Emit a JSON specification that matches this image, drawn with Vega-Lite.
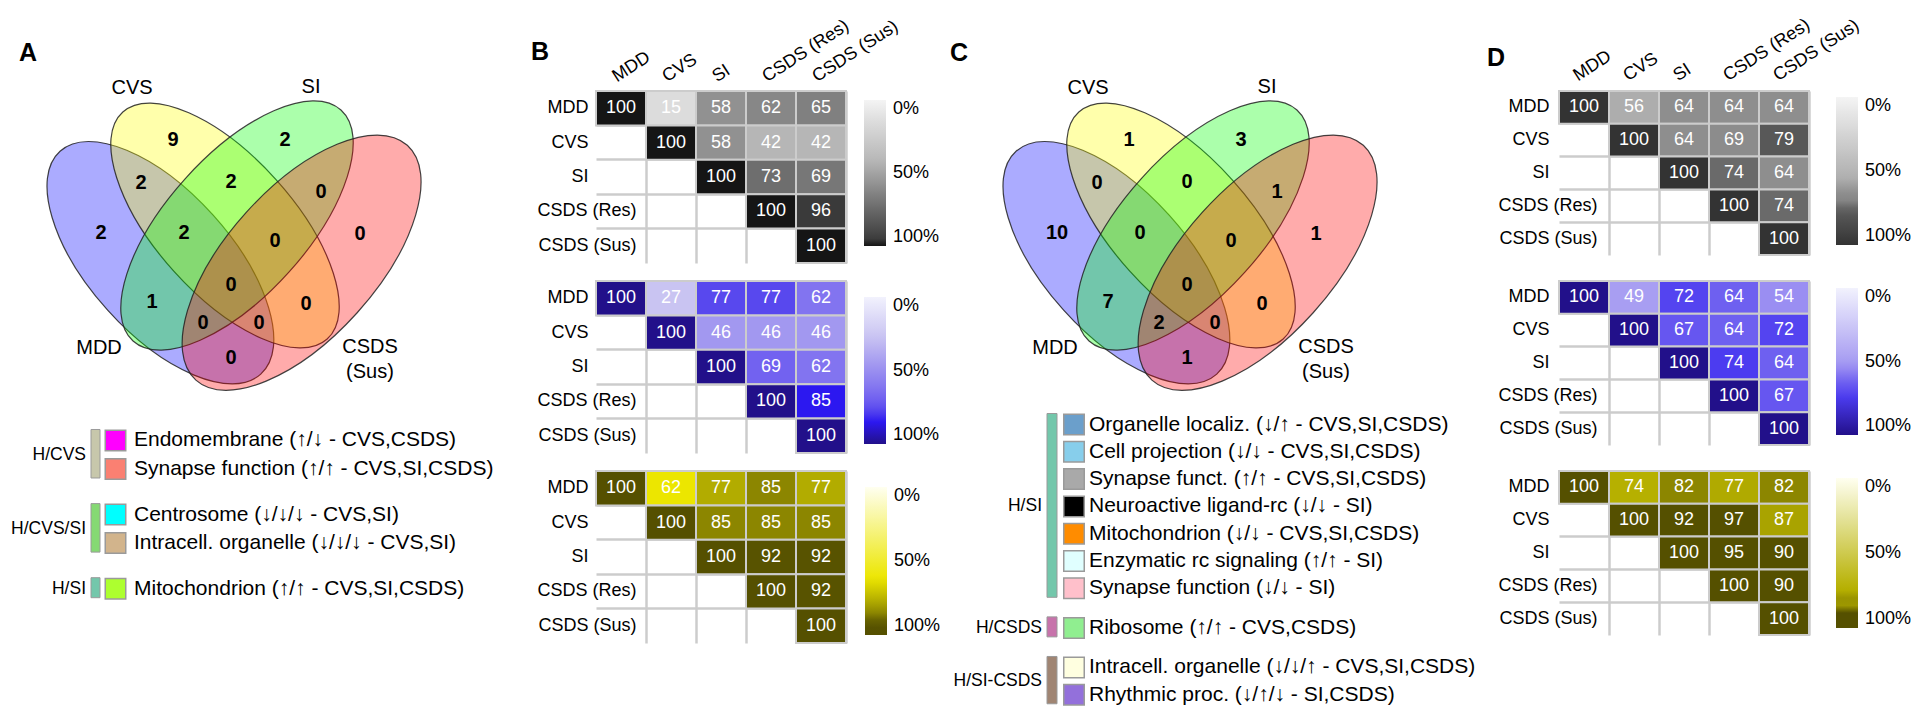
{
  "$schema": "https://vega.github.io/schema/vega-lite/v6.json",
  "padding": {"top": 15, "left": 0, "right": 0, "bottom": 0},
  "background": "white",
  "config": {
    "view": {"stroke": null},
    "font": "Liberation Sans",
    "axis": {"labelFont": "Liberation Sans", "labelColor": "#000000"},
    "legend": {"labelFont": "Liberation Sans", "labelColor": "#000000"},
    "text": {"font": "Liberation Sans"}
  },
  "datasets": {
    "vennSets": [
      {"set": "MDD", "u": -0.706, "v": -0.322, "label": "MDD", "lu": -1.32, "lv": -1.17},
      {"set": "CVS", "u": -0.06, "v": 0.05, "label": "CVS", "lu": -0.99, "lv": 1.43},
      {"set": "SI", "u": 0.06, "v": 0.05, "label": "SI", "lu": 0.8, "lv": 1.44},
      {"set": "CSDS (Sus)", "u": 0.706, "v": -0.322, "label": "CSDS\n(Sus)", "lu": 1.39, "lv": -1.16}
    ],
    "regions": [
      {"region": "MDD", "u": -1.3, "v": -0.02, "A": 2, "C": 10},
      {"region": "CVS", "u": -0.58, "v": 0.91, "A": 9, "C": 1},
      {"region": "SI", "u": 0.54, "v": 0.91, "A": 2, "C": 3},
      {"region": "CSDS", "u": 1.29, "v": -0.03, "A": 0, "C": 1},
      {"region": "MDD&CVS", "u": -0.9, "v": 0.48, "A": 2, "C": 0},
      {"region": "CVS&SI", "u": 0, "v": 0.49, "A": 2, "C": 0},
      {"region": "SI&CSDS", "u": 0.9, "v": 0.39, "A": 0, "C": 1},
      {"region": "MDD&CVS&SI", "u": -0.47, "v": -0.02, "A": 2, "C": 0},
      {"region": "CVS&SI&CSDS", "u": 0.44, "v": -0.1, "A": 0, "C": 0},
      {"region": "all", "u": 0, "v": -0.54, "A": 0, "C": 0},
      {"region": "MDD&SI", "u": -0.79, "v": -0.71, "A": 1, "C": 7},
      {"region": "CVS&CSDS", "u": 0.75, "v": -0.73, "A": 0, "C": 0},
      {"region": "MDD&SI&CSDS", "u": -0.28, "v": -0.92, "A": 0, "C": 2},
      {"region": "MDD&CVS&CSDS", "u": 0.28, "v": -0.92, "A": 0, "C": 0},
      {"region": "MDD&CSDS", "u": 0, "v": -1.27, "A": 0, "C": 1}
    ],
    "lettersA": [{"p": "A", "u": -2.03, "v": 1.78}, {"p": "B", "u": 3.09, "v": 1.79}],
    "lettersC": [{"p": "C", "u": -2.28, "v": 1.78}, {"p": "D", "u": 3.09, "v": 1.73}],
    "legendA": [
      {"group": "H/CVS", "item": "Endomembrane (↑/↓ - CVS,CSDS)", "line": 1},
      {"group": "H/CVS", "item": "Synapse function (↑/↑ - CVS,SI,CSDS)", "line": 2},
      {"group": "H/CVS/SI", "item": "Centrosome (↓/↓/↓ - CVS,SI)", "line": 3.6},
      {"group": "H/CVS/SI", "item": "Intracell. organelle (↓/↓/↓ - CVS,SI)", "line": 4.6},
      {"group": "H/SI", "item": "Mitochondrion (↑/↑ - CVS,SI,CSDS)", "line": 6.2}
    ],
    "legendC": [
      {"group": "H/SI", "item": "Organelle localiz. (↓/↑ - CVS,SI,CSDS)", "line": 1},
      {"group": "H/SI", "item": "Cell projection (↓/↓ - CVS,SI,CSDS)", "line": 2},
      {"group": "H/SI", "item": "Synapse funct. (↑/↑ - CVS,SI,CSDS)", "line": 3},
      {"group": "H/SI", "item": "Neuroactive ligand-rc (↓/↓ - SI)", "line": 4},
      {"group": "H/SI", "item": "Mitochondrion (↓/↓ - CVS,SI,CSDS)", "line": 5},
      {"group": "H/SI", "item": "Enzymatic rc signaling (↑/↑ - SI)", "line": 6},
      {"group": "H/SI", "item": "Synapse function (↓/↓ - SI)", "line": 7},
      {"group": "H/CSDS", "item": "Ribosome (↑/↑ - CVS,CSDS)", "line": 8.45},
      {"group": "H/SI-CSDS", "item": "Intracell. organelle (↓/↓/↑ - CVS,SI,CSDS)", "line": 9.9},
      {"group": "H/SI-CSDS", "item": "Rhythmic proc. (↓/↑/↓ - SI,CSDS)", "line": 10.9}
    ],
    "B": [
      {"m": "gray", "row": "MDD", "col": "MDD", "value": 100},
      {"m": "gray", "row": "MDD", "col": "CVS", "value": 15},
      {"m": "gray", "row": "MDD", "col": "SI", "value": 58},
      {"m": "gray", "row": "MDD", "col": "CSDS (Res)", "value": 62},
      {"m": "gray", "row": "MDD", "col": "CSDS (Sus)", "value": 65},
      {"m": "gray", "row": "CVS", "col": "CVS", "value": 100},
      {"m": "gray", "row": "CVS", "col": "SI", "value": 58},
      {"m": "gray", "row": "CVS", "col": "CSDS (Res)", "value": 42},
      {"m": "gray", "row": "CVS", "col": "CSDS (Sus)", "value": 42},
      {"m": "gray", "row": "SI", "col": "SI", "value": 100},
      {"m": "gray", "row": "SI", "col": "CSDS (Res)", "value": 73},
      {"m": "gray", "row": "SI", "col": "CSDS (Sus)", "value": 69},
      {"m": "gray", "row": "CSDS (Res)", "col": "CSDS (Res)", "value": 100},
      {"m": "gray", "row": "CSDS (Res)", "col": "CSDS (Sus)", "value": 96},
      {"m": "gray", "row": "CSDS (Sus)", "col": "CSDS (Sus)", "value": 100},
      {"m": "blue", "row": "MDD", "col": "MDD", "value": 100},
      {"m": "blue", "row": "MDD", "col": "CVS", "value": 27},
      {"m": "blue", "row": "MDD", "col": "SI", "value": 77},
      {"m": "blue", "row": "MDD", "col": "CSDS (Res)", "value": 77},
      {"m": "blue", "row": "MDD", "col": "CSDS (Sus)", "value": 62},
      {"m": "blue", "row": "CVS", "col": "CVS", "value": 100},
      {"m": "blue", "row": "CVS", "col": "SI", "value": 46},
      {"m": "blue", "row": "CVS", "col": "CSDS (Res)", "value": 46},
      {"m": "blue", "row": "CVS", "col": "CSDS (Sus)", "value": 46},
      {"m": "blue", "row": "SI", "col": "SI", "value": 100},
      {"m": "blue", "row": "SI", "col": "CSDS (Res)", "value": 69},
      {"m": "blue", "row": "SI", "col": "CSDS (Sus)", "value": 62},
      {"m": "blue", "row": "CSDS (Res)", "col": "CSDS (Res)", "value": 100},
      {"m": "blue", "row": "CSDS (Res)", "col": "CSDS (Sus)", "value": 85},
      {"m": "blue", "row": "CSDS (Sus)", "col": "CSDS (Sus)", "value": 100},
      {"m": "yellow", "row": "MDD", "col": "MDD", "value": 100},
      {"m": "yellow", "row": "MDD", "col": "CVS", "value": 62},
      {"m": "yellow", "row": "MDD", "col": "SI", "value": 77},
      {"m": "yellow", "row": "MDD", "col": "CSDS (Res)", "value": 85},
      {"m": "yellow", "row": "MDD", "col": "CSDS (Sus)", "value": 77},
      {"m": "yellow", "row": "CVS", "col": "CVS", "value": 100},
      {"m": "yellow", "row": "CVS", "col": "SI", "value": 85},
      {"m": "yellow", "row": "CVS", "col": "CSDS (Res)", "value": 85},
      {"m": "yellow", "row": "CVS", "col": "CSDS (Sus)", "value": 85},
      {"m": "yellow", "row": "SI", "col": "SI", "value": 100},
      {"m": "yellow", "row": "SI", "col": "CSDS (Res)", "value": 92},
      {"m": "yellow", "row": "SI", "col": "CSDS (Sus)", "value": 92},
      {"m": "yellow", "row": "CSDS (Res)", "col": "CSDS (Res)", "value": 100},
      {"m": "yellow", "row": "CSDS (Res)", "col": "CSDS (Sus)", "value": 92},
      {"m": "yellow", "row": "CSDS (Sus)", "col": "CSDS (Sus)", "value": 100}
    ],
    "D": [
      {"m": "gray", "row": "MDD", "col": "MDD", "value": 100},
      {"m": "gray", "row": "MDD", "col": "CVS", "value": 56},
      {"m": "gray", "row": "MDD", "col": "SI", "value": 64},
      {"m": "gray", "row": "MDD", "col": "CSDS (Res)", "value": 64},
      {"m": "gray", "row": "MDD", "col": "CSDS (Sus)", "value": 64},
      {"m": "gray", "row": "CVS", "col": "CVS", "value": 100},
      {"m": "gray", "row": "CVS", "col": "SI", "value": 64},
      {"m": "gray", "row": "CVS", "col": "CSDS (Res)", "value": 69},
      {"m": "gray", "row": "CVS", "col": "CSDS (Sus)", "value": 79},
      {"m": "gray", "row": "SI", "col": "SI", "value": 100},
      {"m": "gray", "row": "SI", "col": "CSDS (Res)", "value": 74},
      {"m": "gray", "row": "SI", "col": "CSDS (Sus)", "value": 64},
      {"m": "gray", "row": "CSDS (Res)", "col": "CSDS (Res)", "value": 100},
      {"m": "gray", "row": "CSDS (Res)", "col": "CSDS (Sus)", "value": 74},
      {"m": "gray", "row": "CSDS (Sus)", "col": "CSDS (Sus)", "value": 100},
      {"m": "blue", "row": "MDD", "col": "MDD", "value": 100},
      {"m": "blue", "row": "MDD", "col": "CVS", "value": 49},
      {"m": "blue", "row": "MDD", "col": "SI", "value": 72},
      {"m": "blue", "row": "MDD", "col": "CSDS (Res)", "value": 64},
      {"m": "blue", "row": "MDD", "col": "CSDS (Sus)", "value": 54},
      {"m": "blue", "row": "CVS", "col": "CVS", "value": 100},
      {"m": "blue", "row": "CVS", "col": "SI", "value": 67},
      {"m": "blue", "row": "CVS", "col": "CSDS (Res)", "value": 64},
      {"m": "blue", "row": "CVS", "col": "CSDS (Sus)", "value": 72},
      {"m": "blue", "row": "SI", "col": "SI", "value": 100},
      {"m": "blue", "row": "SI", "col": "CSDS (Res)", "value": 74},
      {"m": "blue", "row": "SI", "col": "CSDS (Sus)", "value": 64},
      {"m": "blue", "row": "CSDS (Res)", "col": "CSDS (Res)", "value": 100},
      {"m": "blue", "row": "CSDS (Res)", "col": "CSDS (Sus)", "value": 67},
      {"m": "blue", "row": "CSDS (Sus)", "col": "CSDS (Sus)", "value": 100},
      {"m": "yellow", "row": "MDD", "col": "MDD", "value": 100},
      {"m": "yellow", "row": "MDD", "col": "CVS", "value": 74},
      {"m": "yellow", "row": "MDD", "col": "SI", "value": 82},
      {"m": "yellow", "row": "MDD", "col": "CSDS (Res)", "value": 77},
      {"m": "yellow", "row": "MDD", "col": "CSDS (Sus)", "value": 82},
      {"m": "yellow", "row": "CVS", "col": "CVS", "value": 100},
      {"m": "yellow", "row": "CVS", "col": "SI", "value": 92},
      {"m": "yellow", "row": "CVS", "col": "CSDS (Res)", "value": 97},
      {"m": "yellow", "row": "CVS", "col": "CSDS (Sus)", "value": 87},
      {"m": "yellow", "row": "SI", "col": "SI", "value": 100},
      {"m": "yellow", "row": "SI", "col": "CSDS (Res)", "value": 95},
      {"m": "yellow", "row": "SI", "col": "CSDS (Sus)", "value": 90},
      {"m": "yellow", "row": "CSDS (Res)", "col": "CSDS (Res)", "value": 100},
      {"m": "yellow", "row": "CSDS (Res)", "col": "CSDS (Sus)", "value": 90},
      {"m": "yellow", "row": "CSDS (Sus)", "col": "CSDS (Sus)", "value": 100}
    ]
  },
  "hconcat": [
    {
      "width": 557,
      "height": 618,
      "layer": [
        {
          "layer": [
            {
              "data": {"name": "vennSets"},
              "mark": {"type": "point", "filled": true, "fillOpacity": 0.33, "opacity": 1, "stroke": "#222222", "strokeWidth": 1.2, "strokeOpacity": 0.85},
              "encoding": {
                "x": {"field": "u", "type": "quantitative", "scale": {"domain": [-2.31, 3.26], "nice": false, "zero": false}, "axis": null},
                "y": {"field": "v", "type": "quantitative", "scale": {"domain": [-4.785, 1.395], "nice": false, "zero": false}, "axis": null},
                "fill": {"field": "set", "type": "nominal", "scale": {"domain": ["MDD", "CVS", "SI", "CSDS (Sus)"], "range": ["#0000ff", "#ffff00", "#00ff00", "#ff0000"]}, "legend": null},
                "shape": {"field": "set", "type": "nominal", "scale": {"domain": ["MDD", "CVS", "SI", "CSDS (Sus)"], "range": [
                  "M0.6691,0.7431C0.4749,0.9181,0.0178,0.7271,-0.3517,0.3167C-0.7213,-0.0937,-0.8634,-0.5682,-0.6691,-0.7431C-0.4749,-0.9181,-0.0178,-0.7271,0.3517,-0.3167C0.7213,0.0937,0.8634,0.5682,0.6691,0.7431Z",
                  "M0.6691,0.7431C0.4847,0.9092,0.0356,0.7111,-0.334,0.3007C-0.7035,-0.1097,-0.8536,-0.5771,-0.6691,-0.7431C-0.4847,-0.9092,-0.0356,-0.7111,0.334,-0.3007C0.7035,0.1097,0.8536,0.5771,0.6691,0.7431Z",
                  "M-0.6691,0.7431C-0.4847,0.9092,-0.0356,0.7111,0.334,0.3007C0.7035,-0.1097,0.8536,-0.5771,0.6691,-0.7431C0.4847,-0.9092,0.0356,-0.7111,-0.334,-0.3007C-0.7035,0.1097,-0.8536,0.5771,-0.6691,0.7431Z",
                  "M-0.6691,0.7431C-0.4749,0.9181,-0.0178,0.7271,0.3517,0.3167C0.7213,-0.0937,0.8634,-0.5682,0.6691,-0.7431C0.4749,-0.9181,0.0178,-0.7271,-0.3517,-0.3167C-0.7213,0.0937,-0.8634,0.5682,-0.6691,0.7431Z"
                ]}, "legend": null},
                "size": {"field": "set", "type": "ordinal", "scale": {"domain": ["MDD", "CVS", "SI", "CSDS (Sus)"], "range": [90000, 99856, 99856, 90000]}, "legend": null}
              }
            },
            {
              "data": {"name": "regions"},
              "mark": {"type": "text", "fontSize": 20, "fontWeight": "bold", "color": "#000000"},
              "encoding": {
                "x": {"field": "u", "type": "quantitative"},
                "y": {"field": "v", "type": "quantitative"},
                "text": {"field": "A", "type": "quantitative"}
              }
            },
            {
              "data": {"name": "vennSets"},
              "mark": {"type": "text", "fontSize": 20, "lineBreak": "\n", "lineHeight": 25, "color": "#000000"},
              "encoding": {
                "x": {"field": "lu", "type": "quantitative"},
                "y": {"field": "lv", "type": "quantitative"},
                "text": {"field": "label", "type": "nominal"}
              }
            },
            {
              "data": {"name": "lettersA"},
              "mark": {"type": "text", "fontSize": 25, "fontWeight": "bold", "color": "#000000"},
              "encoding": {
                "x": {"field": "u", "type": "quantitative"},
                "y": {"field": "v", "type": "quantitative"},
                "text": {"field": "p", "type": "nominal"}
              }
            }
          ]
        },
        {
          "data": {"name": "legendA"},
          "layer": [
            {
              "mark": {"type": "rect", "yOffset": -11, "y2Offset": 9, "stroke": "#9a9a9a", "strokeWidth": 1},
              "encoding": {
                "y": {"aggregate": "min", "field": "line", "type": "quantitative", "scale": {"domain": [-11.263, 10.421], "reverse": true, "nice": false, "zero": false}, "axis": null},
                "y2": {"aggregate": "max", "field": "line"},
                "x": {"datum": -1.4, "type": "quantitative"},
                "x2": {"datum": -1.31},
                "fill": {"field": "group", "type": "nominal", "scale": {"domain": ["H/CVS", "H/CVS/SI", "H/SI"], "range": ["#c7c7ab", "#85d973", "#73c7ab"]}, "legend": null}
              }
            },
            {
              "mark": {"type": "text", "align": "right", "baseline": "middle", "fontSize": 17.5, "color": "#000000"},
              "encoding": {
                "y": {"aggregate": "mean", "field": "line", "type": "quantitative"},
                "x": {"datum": -1.45, "type": "quantitative"},
                "text": {"field": "group", "type": "nominal"}
              }
            },
            {
              "mark": {"type": "point", "shape": "square", "filled": true, "size": 420, "opacity": 1, "stroke": "#9a9a9a", "strokeWidth": 1.5},
              "encoding": {
                "y": {"field": "line", "type": "quantitative"},
                "x": {"datum": -1.155, "type": "quantitative"},
                "color": {"field": "item", "type": "nominal", "scale": {"domain": ["Endomembrane (↑/↓ - CVS,CSDS)", "Synapse function (↑/↑ - CVS,SI,CSDS)", "Centrosome (↓/↓/↓ - CVS,SI)", "Intracell. organelle (↓/↓/↓ - CVS,SI)", "Mitochondrion (↑/↑ - CVS,SI,CSDS)"], "range": ["#ff00ff", "#fa8072", "#00ffff", "#d2b48c", "#adff2f"]}, "legend": null}
              }
            },
            {
              "mark": {"type": "text", "align": "left", "baseline": "middle", "fontSize": 21, "color": "#000000"},
              "encoding": {
                "y": {"field": "line", "type": "quantitative"},
                "x": {"datum": -0.97, "type": "quantitative"},
                "text": {"field": "item", "type": "nominal"}
              }
            }
          ]
        }
      ],
      "resolve": {"scale": {"y": "independent", "fill": "independent"}}
    },
    {
      "data": {"name": "B"},
      "spacing": 16,
      "resolve": {"scale": {"fill": "independent", "x": "independent", "y": "independent"}},
      "vconcat": [
        {
          "width": 250, "height": 172,
          "transform": [{"filter": "datum.m === 'gray'"}],
          "layer": [
            {
              "mark": {"type": "rect", "stroke": "#cccccc", "strokeWidth": 2},
              "encoding": {
                "x": {"field": "col", "type": "nominal", "scale": {"domain": ["MDD", "CVS", "SI", "CSDS (Res)", "CSDS (Sus)"], "paddingInner": 0, "paddingOuter": 0},
                  "axis": {"orient": "top", "title": null, "labelAngle": -33, "labelAlign": "left", "labelBaseline": "alphabetic", "labelPadding": 9, "labelOffset": -4, "labelFontSize": 18, "ticks": false, "domain": false, "grid": false}},
                "y": {"field": "row", "type": "nominal", "scale": {"domain": ["MDD", "CVS", "SI", "CSDS (Res)", "CSDS (Sus)"], "paddingInner": 0, "paddingOuter": 0},
                  "axis": {"orient": "left", "title": null, "labelFontSize": 18, "labelPadding": {"condition": {"test": "length(datum.label) > 5", "value": -40}, "value": 8}, "ticks": false, "domain": false, "grid": false}},
                "fill": {"field": "value", "type": "quantitative",
                  "scale": {"domain": [100, 96, 73, 60, 42, 15, 0], "range": ["#151515", "#3a3a3a", "#6e6e6e", "#8c8c8c", "#b6b6b6", "#dcdcdc", "#f4f4f4"], "interpolate": "rgb"},
                  "legend": {"title": null, "orient": "none", "legendX": 268, "legendY": 9, "padding": 0, "direction": "vertical", "values": [0, 50, 100], "labelExpr": "datum.value + '%'", "labelFontSize": 18, "labelBaseline": "middle", "labelOffset": 7, "gradientThickness": 22, "gradientLength": 146, "gradientStrokeWidth": 0}}
              }
            },
            {
              "mark": {"type": "text", "color": "#ffffff", "fontSize": 18},
              "encoding": {
                "x": {"field": "col", "type": "nominal", "axis": {"orient": "bottom", "title": null, "labels": false, "ticks": false, "domain": false, "grid": true, "bandPosition": 1, "gridColor": "#cccccc", "gridWidth": 2.5}},
                "y": {"field": "row", "type": "nominal", "axis": {"orient": "right", "title": null, "labels": false, "ticks": false, "domain": false, "grid": true, "bandPosition": 0, "gridColor": "#cccccc", "gridWidth": 2.5}},
                "text": {"field": "value", "type": "quantitative"}
              }
            }
          ],
          "resolve": {"axis": {"x": "independent", "y": "independent"}}
        },
        {
          "width": 250, "height": 172,
          "transform": [{"filter": "datum.m === 'blue'"}],
          "layer": [
            {
              "mark": {"type": "rect", "stroke": "#cccccc", "strokeWidth": 2},
              "encoding": {
                "x": {"field": "col", "type": "nominal", "scale": {"domain": ["MDD", "CVS", "SI", "CSDS (Res)", "CSDS (Sus)"], "paddingInner": 0, "paddingOuter": 0}, "axis": null},
                "y": {"field": "row", "type": "nominal", "scale": {"domain": ["MDD", "CVS", "SI", "CSDS (Res)", "CSDS (Sus)"], "paddingInner": 0, "paddingOuter": 0},
                  "axis": {"orient": "left", "title": null, "labelFontSize": 18, "labelPadding": {"condition": {"test": "length(datum.label) > 5", "value": -40}, "value": 8}, "ticks": false, "domain": false, "grid": false}},
                "fill": {"field": "value", "type": "quantitative",
                  "scale": {"domain": [100, 85, 77, 69, 62, 46, 27, 0], "range": ["#22108a", "#2c18f0", "#5848ee", "#7262f0", "#8274f0", "#a298f0", "#c9c4f2", "#f2f2fd"], "interpolate": "rgb"},
                  "legend": {"title": null, "orient": "none", "legendX": 268, "legendY": 16, "padding": 0, "direction": "vertical", "values": [0, 50, 100], "labelExpr": "datum.value + '%'", "labelFontSize": 18, "labelBaseline": "middle", "labelOffset": 7, "gradientThickness": 22, "gradientLength": 147, "gradientStrokeWidth": 0}}
              }
            },
            {
              "mark": {"type": "text", "color": "#ffffff", "fontSize": 18},
              "encoding": {
                "x": {"field": "col", "type": "nominal", "axis": {"orient": "bottom", "title": null, "labels": false, "ticks": false, "domain": false, "grid": true, "bandPosition": 1, "gridColor": "#cccccc", "gridWidth": 2.5}},
                "y": {"field": "row", "type": "nominal", "axis": {"orient": "right", "title": null, "labels": false, "ticks": false, "domain": false, "grid": true, "bandPosition": 0, "gridColor": "#cccccc", "gridWidth": 2.5}},
                "text": {"field": "value", "type": "quantitative"}
              }
            }
          ],
          "resolve": {"axis": {"x": "independent", "y": "independent"}}
        },
        {
          "width": 250, "height": 172,
          "transform": [{"filter": "datum.m === 'yellow'"}],
          "layer": [
            {
              "mark": {"type": "rect", "stroke": "#cccccc", "strokeWidth": 2},
              "encoding": {
                "x": {"field": "col", "type": "nominal", "scale": {"domain": ["MDD", "CVS", "SI", "CSDS (Res)", "CSDS (Sus)"], "paddingInner": 0, "paddingOuter": 0}, "axis": null},
                "y": {"field": "row", "type": "nominal", "scale": {"domain": ["MDD", "CVS", "SI", "CSDS (Res)", "CSDS (Sus)"], "paddingInner": 0, "paddingOuter": 0},
                  "axis": {"orient": "left", "title": null, "labelFontSize": 18, "labelPadding": {"condition": {"test": "length(datum.label) > 5", "value": -40}, "value": 8}, "ticks": false, "domain": false, "grid": false}},
                "fill": {"field": "value", "type": "quantitative",
                  "scale": {"domain": [100, 92, 85, 77, 62, 0], "range": ["#555000", "#585300", "#8c8600", "#b2ac00", "#ece600", "#fffff0"], "interpolate": "rgb"},
                  "legend": {"title": null, "orient": "none", "legendX": 269, "legendY": 16, "padding": 0, "direction": "vertical", "values": [0, 50, 100], "labelExpr": "datum.value + '%'", "labelFontSize": 18, "labelBaseline": "middle", "labelOffset": 7, "gradientThickness": 22, "gradientLength": 148, "gradientStrokeWidth": 0}}
              }
            },
            {
              "mark": {"type": "text", "color": "#ffffff", "fontSize": 18},
              "encoding": {
                "x": {"field": "col", "type": "nominal", "axis": {"orient": "bottom", "title": null, "labels": false, "ticks": false, "domain": false, "grid": true, "bandPosition": 1, "gridColor": "#cccccc", "gridWidth": 2.5}},
                "y": {"field": "row", "type": "nominal", "axis": {"orient": "right", "title": null, "labels": false, "ticks": false, "domain": false, "grid": true, "bandPosition": 0, "gridColor": "#cccccc", "gridWidth": 2.5}},
                "text": {"field": "value", "type": "quantitative"}
              }
            }
          ],
          "resolve": {"axis": {"x": "independent", "y": "independent"}}
        }
      ]
    },
    {
      "width": 577,
      "height": 618,
      "layer": [
        {
          "layer": [
            {
              "data": {"name": "vennSets"},
              "mark": {"type": "point", "filled": true, "fillOpacity": 0.33, "opacity": 1, "stroke": "#222222", "strokeWidth": 1.2, "strokeOpacity": 0.85},
              "encoding": {
                "x": {"field": "u", "type": "quantitative", "scale": {"domain": [-2.46, 3.31], "nice": false, "zero": false}, "axis": null},
                "y": {"field": "v", "type": "quantitative", "scale": {"domain": [-4.785, 1.395], "nice": false, "zero": false}, "axis": null},
                "fill": {"field": "set", "type": "nominal", "scale": {"domain": ["MDD", "CVS", "SI", "CSDS (Sus)"], "range": ["#0000ff", "#ffff00", "#00ff00", "#ff0000"]}, "legend": null},
                "shape": {"field": "set", "type": "nominal", "scale": {"domain": ["MDD", "CVS", "SI", "CSDS (Sus)"], "range": [
                  "M0.6691,0.7431C0.4749,0.9181,0.0178,0.7271,-0.3517,0.3167C-0.7213,-0.0937,-0.8634,-0.5682,-0.6691,-0.7431C-0.4749,-0.9181,-0.0178,-0.7271,0.3517,-0.3167C0.7213,0.0937,0.8634,0.5682,0.6691,0.7431Z",
                  "M0.6691,0.7431C0.4847,0.9092,0.0356,0.7111,-0.334,0.3007C-0.7035,-0.1097,-0.8536,-0.5771,-0.6691,-0.7431C-0.4847,-0.9092,-0.0356,-0.7111,0.334,-0.3007C0.7035,0.1097,0.8536,0.5771,0.6691,0.7431Z",
                  "M-0.6691,0.7431C-0.4847,0.9092,-0.0356,0.7111,0.334,0.3007C0.7035,-0.1097,0.8536,-0.5771,0.6691,-0.7431C0.4847,-0.9092,0.0356,-0.7111,-0.334,-0.3007C-0.7035,0.1097,-0.8536,0.5771,-0.6691,0.7431Z",
                  "M-0.6691,0.7431C-0.4749,0.9181,-0.0178,0.7271,0.3517,0.3167C0.7213,-0.0937,0.8634,-0.5682,0.6691,-0.7431C0.4749,-0.9181,0.0178,-0.7271,-0.3517,-0.3167C-0.7213,0.0937,-0.8634,0.5682,-0.6691,0.7431Z"
                ]}, "legend": null},
                "size": {"field": "set", "type": "ordinal", "scale": {"domain": ["MDD", "CVS", "SI", "CSDS (Sus)"], "range": [90000, 99856, 99856, 90000]}, "legend": null}
              }
            },
            {
              "data": {"name": "regions"},
              "mark": {"type": "text", "fontSize": 20, "fontWeight": "bold", "color": "#000000"},
              "encoding": {
                "x": {"field": "u", "type": "quantitative"},
                "y": {"field": "v", "type": "quantitative"},
                "text": {"field": "C", "type": "quantitative"}
              }
            },
            {
              "data": {"name": "vennSets"},
              "mark": {"type": "text", "fontSize": 20, "lineBreak": "\n", "lineHeight": 25, "color": "#000000"},
              "encoding": {
                "x": {"field": "lu", "type": "quantitative"},
                "y": {"field": "lv", "type": "quantitative"},
                "text": {"field": "label", "type": "nominal"}
              }
            },
            {
              "data": {"name": "lettersC"},
              "mark": {"type": "text", "fontSize": 25, "fontWeight": "bold", "color": "#000000"},
              "encoding": {
                "x": {"field": "u", "type": "quantitative"},
                "y": {"field": "v", "type": "quantitative"},
                "text": {"field": "p", "type": "nominal"}
              }
            }
          ]
        },
        {
          "data": {"name": "legendC"},
          "layer": [
            {
              "mark": {"type": "rect", "yOffset": -11, "y2Offset": 9, "stroke": "#9a9a9a", "strokeWidth": 1},
              "encoding": {
                "y": {"aggregate": "min", "field": "line", "type": "quantitative", "scale": {"domain": [-11.216, 11.421], "reverse": true, "nice": false, "zero": false}, "axis": null},
                "y2": {"aggregate": "max", "field": "line"},
                "x": {"datum": -1.4, "type": "quantitative"},
                "x2": {"datum": -1.3},
                "fill": {"field": "group", "type": "nominal", "scale": {"domain": ["H/SI", "H/CSDS", "H/SI-CSDS"], "range": ["#73c7ab", "#c773ab", "#a08573"]}, "legend": null}
              }
            },
            {
              "mark": {"type": "text", "align": "right", "baseline": "middle", "fontSize": 17.5, "color": "#000000"},
              "encoding": {
                "y": {"aggregate": "mean", "field": "line", "type": "quantitative"},
                "x": {"datum": -1.45, "type": "quantitative"},
                "text": {"field": "group", "type": "nominal"}
              }
            },
            {
              "mark": {"type": "point", "shape": "square", "filled": true, "size": 420, "opacity": 1, "stroke": "#9a9a9a", "strokeWidth": 1.5},
              "encoding": {
                "y": {"field": "line", "type": "quantitative"},
                "x": {"datum": -1.13, "type": "quantitative"},
                "color": {"field": "item", "type": "nominal", "scale": {"domain": ["Organelle localiz. (↓/↑ - CVS,SI,CSDS)", "Cell projection (↓/↓ - CVS,SI,CSDS)", "Synapse funct. (↑/↑ - CVS,SI,CSDS)", "Neuroactive ligand-rc (↓/↓ - SI)", "Mitochondrion (↓/↓ - CVS,SI,CSDS)", "Enzymatic rc signaling (↑/↑ - SI)", "Synapse function (↓/↓ - SI)", "Ribosome (↑/↑ - CVS,CSDS)", "Intracell. organelle (↓/↓/↑ - CVS,SI,CSDS)", "Rhythmic proc. (↓/↑/↓ - SI,CSDS)"], "range": ["#6b9fcb", "#87ceeb", "#a9a9a9", "#000000", "#ff8c00", "#e0ffff", "#ffc0cb", "#90ee90", "#ffffe0", "#9370db"]}, "legend": null}
              }
            },
            {
              "mark": {"type": "text", "align": "left", "baseline": "middle", "fontSize": 21, "color": "#000000"},
              "encoding": {
                "y": {"field": "line", "type": "quantitative"},
                "x": {"datum": -0.98, "type": "quantitative"},
                "text": {"field": "item", "type": "nominal"}
              }
            }
          ]
        }
      ],
      "resolve": {"scale": {"y": "independent", "fill": "independent"}}
    },
    {
      "data": {"name": "D"},
      "spacing": 24,
      "resolve": {"scale": {"fill": "independent", "x": "independent", "y": "independent"}},
      "vconcat": [
        {
          "width": 250, "height": 164,
          "transform": [{"filter": "datum.m === 'gray'"}],
          "layer": [
            {
              "mark": {"type": "rect", "stroke": "#cccccc", "strokeWidth": 2},
              "encoding": {
                "x": {"field": "col", "type": "nominal", "scale": {"domain": ["MDD", "CVS", "SI", "CSDS (Res)", "CSDS (Sus)"], "paddingInner": 0, "paddingOuter": 0},
                  "axis": {"orient": "top", "title": null, "labelAngle": -33, "labelAlign": "left", "labelBaseline": "alphabetic", "labelPadding": 10, "labelOffset": -6, "labelFontSize": 18, "ticks": false, "domain": false, "grid": false}},
                "y": {"field": "row", "type": "nominal", "scale": {"domain": ["MDD", "CVS", "SI", "CSDS (Res)", "CSDS (Sus)"], "paddingInner": 0, "paddingOuter": 0},
                  "axis": {"orient": "left", "title": null, "labelFontSize": 18, "labelPadding": {"condition": {"test": "length(datum.label) > 5", "value": -38}, "value": 10}, "ticks": false, "domain": false, "grid": false}},
                "fill": {"field": "value", "type": "quantitative",
                  "scale": {"domain": [100, 79, 74, 69, 64, 56, 0], "range": ["#333333", "#585858", "#6a6a6a", "#8c8c8c", "#8e8e8e", "#adadad", "#f4f4f4"], "interpolate": "rgb"},
                  "legend": {"title": null, "orient": "none", "legendX": 277, "legendY": 6, "padding": 0, "direction": "vertical", "values": [0, 50, 100], "labelExpr": "datum.value + '%'", "labelFontSize": 18, "labelBaseline": "middle", "labelOffset": 7, "gradientThickness": 22, "gradientLength": 148, "gradientStrokeWidth": 0}}
              }
            },
            {
              "mark": {"type": "text", "color": "#ffffff", "fontSize": 18},
              "encoding": {
                "x": {"field": "col", "type": "nominal", "axis": {"orient": "bottom", "title": null, "labels": false, "ticks": false, "domain": false, "grid": true, "bandPosition": 1, "gridColor": "#cccccc", "gridWidth": 2.5}},
                "y": {"field": "row", "type": "nominal", "axis": {"orient": "right", "title": null, "labels": false, "ticks": false, "domain": false, "grid": true, "bandPosition": 0, "gridColor": "#cccccc", "gridWidth": 2.5}},
                "text": {"field": "value", "type": "quantitative"}
              }
            }
          ],
          "resolve": {"axis": {"x": "independent", "y": "independent"}}
        },
        {
          "width": 250, "height": 164,
          "transform": [{"filter": "datum.m === 'blue'"}],
          "layer": [
            {
              "mark": {"type": "rect", "stroke": "#cccccc", "strokeWidth": 2},
              "encoding": {
                "x": {"field": "col", "type": "nominal", "scale": {"domain": ["MDD", "CVS", "SI", "CSDS (Res)", "CSDS (Sus)"], "paddingInner": 0, "paddingOuter": 0}, "axis": null},
                "y": {"field": "row", "type": "nominal", "scale": {"domain": ["MDD", "CVS", "SI", "CSDS (Res)", "CSDS (Sus)"], "paddingInner": 0, "paddingOuter": 0},
                  "axis": {"orient": "left", "title": null, "labelFontSize": 18, "labelPadding": {"condition": {"test": "length(datum.label) > 5", "value": -38}, "value": 10}, "ticks": false, "domain": false, "grid": false}},
                "fill": {"field": "value", "type": "quantitative",
                  "scale": {"domain": [100, 74, 72, 67, 64, 54, 49, 0], "range": ["#22108a", "#4c3cf0", "#5444f0", "#6656f0", "#6e60f0", "#9a8ef2", "#a89ef2", "#f2f2fd"], "interpolate": "rgb"},
                  "legend": {"title": null, "orient": "none", "legendX": 277, "legendY": 7, "padding": 0, "direction": "vertical", "values": [0, 50, 100], "labelExpr": "datum.value + '%'", "labelFontSize": 18, "labelBaseline": "middle", "labelOffset": 7, "gradientThickness": 22, "gradientLength": 147, "gradientStrokeWidth": 0}}
              }
            },
            {
              "mark": {"type": "text", "color": "#ffffff", "fontSize": 18},
              "encoding": {
                "x": {"field": "col", "type": "nominal", "axis": {"orient": "bottom", "title": null, "labels": false, "ticks": false, "domain": false, "grid": true, "bandPosition": 1, "gridColor": "#cccccc", "gridWidth": 2.5}},
                "y": {"field": "row", "type": "nominal", "axis": {"orient": "right", "title": null, "labels": false, "ticks": false, "domain": false, "grid": true, "bandPosition": 0, "gridColor": "#cccccc", "gridWidth": 2.5}},
                "text": {"field": "value", "type": "quantitative"}
              }
            }
          ],
          "resolve": {"axis": {"x": "independent", "y": "independent"}}
        },
        {
          "width": 250, "height": 164,
          "transform": [{"filter": "datum.m === 'yellow'"}],
          "layer": [
            {
              "mark": {"type": "rect", "stroke": "#cccccc", "strokeWidth": 2},
              "encoding": {
                "x": {"field": "col", "type": "nominal", "scale": {"domain": ["MDD", "CVS", "SI", "CSDS (Res)", "CSDS (Sus)"], "paddingInner": 0, "paddingOuter": 0}, "axis": null},
                "y": {"field": "row", "type": "nominal", "scale": {"domain": ["MDD", "CVS", "SI", "CSDS (Res)", "CSDS (Sus)"], "paddingInner": 0, "paddingOuter": 0},
                  "axis": {"orient": "left", "title": null, "labelFontSize": 18, "labelPadding": {"condition": {"test": "length(datum.label) > 5", "value": -38}, "value": 10}, "ticks": false, "domain": false, "grid": false}},
                "fill": {"field": "value", "type": "quantitative",
                  "scale": {"domain": [100, 90, 87, 82, 77, 74, 0], "range": ["#555000", "#555000", "#a9a300", "#8c8600", "#b0aa00", "#b6b000", "#fffff0"], "interpolate": "rgb"},
                  "legend": {"title": null, "orient": "none", "legendX": 277, "legendY": 7, "padding": 0, "direction": "vertical", "values": [0, 50, 100], "labelExpr": "datum.value + '%'", "labelFontSize": 18, "labelBaseline": "middle", "labelOffset": 7, "gradientThickness": 22, "gradientLength": 150, "gradientStrokeWidth": 0}}
              }
            },
            {
              "mark": {"type": "text", "color": "#ffffff", "fontSize": 18},
              "encoding": {
                "x": {"field": "col", "type": "nominal", "axis": {"orient": "bottom", "title": null, "labels": false, "ticks": false, "domain": false, "grid": true, "bandPosition": 1, "gridColor": "#cccccc", "gridWidth": 2.5}},
                "y": {"field": "row", "type": "nominal", "axis": {"orient": "right", "title": null, "labels": false, "ticks": false, "domain": false, "grid": true, "bandPosition": 0, "gridColor": "#cccccc", "gridWidth": 2.5}},
                "text": {"field": "value", "type": "quantitative"}
              }
            }
          ],
          "resolve": {"axis": {"x": "independent", "y": "independent"}}
        }
      ]
    }
  ],
  "spacing": -21,
  "resolve": {"scale": {"fill": "independent", "color": "independent", "shape": "independent", "size": "independent", "x": "independent", "y": "independent"}}
}
